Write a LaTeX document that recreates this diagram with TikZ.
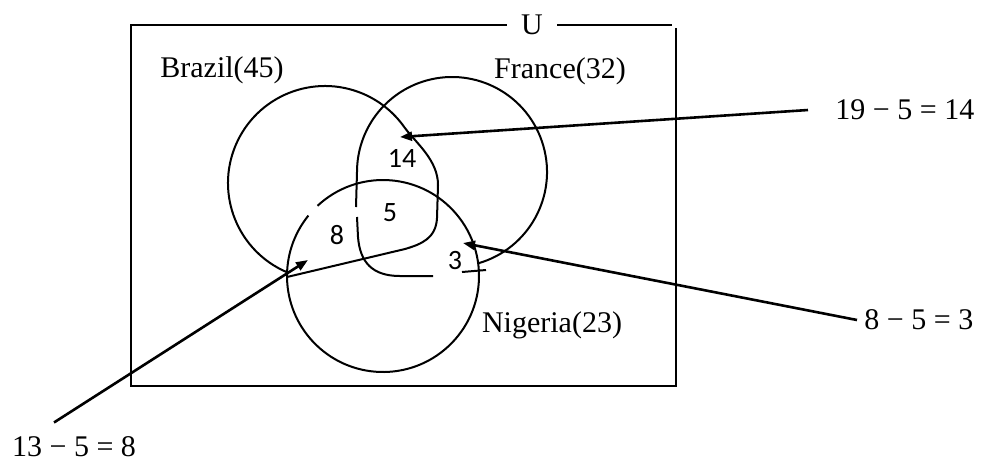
\documentclass[tikz,border=0pt]{standalone}
\usepackage{fontspec}
\setmainfont{Liberation Serif}
\newfontfamily\numfont{Carlito}
\usepackage{tikz}
\usetikzlibrary{arrows.meta, calc}

\begin{document}
\begin{tikzpicture}[x=0.5pt, y=-0.5pt,
    setline/.style={line width=1pt},
    pointer/.style={line width=1.3pt, -{Triangle[length=6pt,width=4.5pt]}},
    setlabel/.style={font=\fontsize{15}{18}\selectfont, inner sep=0pt, anchor=base},
    eqlabel/.style={font=\fontsize{15}{18}\selectfont, inner ysep=0pt},
    region/.style={font=\numfont\fontsize{14}{17}\selectfont, inner sep=0pt}]
  \useasboundingbox (0,0) rectangle (984,462);
  \node[eqlabel, inner xsep=7pt] (U) at (532,25) {U};
  \draw[setline] (U.west) -- (131,25) -- (131,386) -- (676,386) -- (676,28);
  \draw[setline] (U.east) -- (672,25);
  \coordinate (B) at (325,183);
  \coordinate (F) at (452,172);
  \coordinate (N) at (383,276);
  \draw[setline] (B) ++(113:97) arc[start angle=113, end angle=325, radius=97]
    .. controls (416,143) and (438,160) .. (438,185) -- (437,218)
    .. controls (436,238) and (422,244) .. (405,249) -- (287,277);
  \draw[setline] (F) ++(74:95) arc[start angle=74, end angle=-180, radius=95] -- (356,207);
  \draw[setline] (357,217) -- (358,237) .. controls (360,262) and (372,276) .. (400,276) -- (433,276);
  \draw[setline] (462,272) -- (486,270);
  \draw[setline] (N) ++(227:96) arc[start angle=227, end angle=579, radius=96];
  \node[setlabel] (brazil) at (222,77) {Brazil(45)};
  \node[setlabel] (france) at (560,78) {France(32)};
  \node[setlabel] (nigeria) at (552,332) {Nigeria(23)};
  \node[region] (n14) at (402,158) {14};
  \node[region] (n5) at (390,213) {5};
  \node[region] (n8) at (337,235) {8};
  \node[region] (n3) at (455,260) {3};
  \node[eqlabel, anchor=west, inner xsep=13.5pt] (eq14) at (808,110) {19 − 5 = 14};
  \node[eqlabel, anchor=west, inner xsep=3.5pt] (eq3) at (857,320) {8 − 5 = 3};
  \node[eqlabel, inner sep=0pt] (eq8) at (74,447) {13 − 5 = 8};
  \coordinate (t14) at (400,137);
  \coordinate (t3) at (463,243);
  \coordinate (t8) at (308,260);
  \draw[pointer] (eq14.west) -- (t14);
  \draw[pointer] (eq3.west) -- (t3);
  \draw[pointer] ([xshift=-10pt,yshift=7pt]eq8.north) -- (t8);
\end{tikzpicture}
\end{document}
